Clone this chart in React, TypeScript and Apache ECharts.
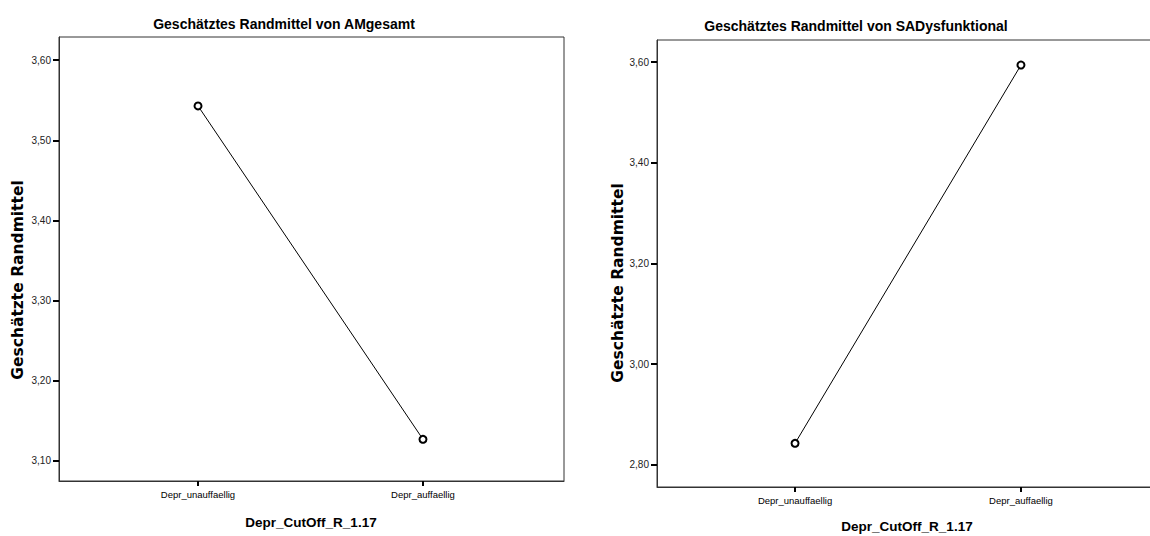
import React, { useEffect, useRef } from "react";
import * as echarts from "echarts";

const categories = ["Depr_unauffaellig", "Depr_auffaellig"];
const amGesamt = [3.543, 3.127];
const saDysfunktional = [2.843, 3.594];
const leftTicks = [3.1, 3.2, 3.3, 3.4, 3.5, 3.6];
const rightTicks = [2.8, 3.0, 3.2, 3.4, 3.6];
const leftTitle = "Geschätztes Randmittel von AMgesamt";
const rightTitle = "Geschätztes Randmittel von SADysfunktional";
const yName = "Geschätzte Randmittel";
const xName = "Depr_CutOff_R_1.17";

const FONT = '"Liberation Sans", Arial, sans-serif';
const YFONT = '"DejaVu Sans", "Liberation Sans", Arial, sans-serif';

export default function App() {
  const ref = useRef<HTMLDivElement>(null);
  useEffect(() => {
    document.body.style.margin = "0";
    const chart = echarts.init(ref.current!, null, { renderer: "svg" });
    const fmtY = (v: number) => v.toFixed(2).replace(".", ",");
    const xAxisBase = (min: number, max: number, gridIndex: number) => ({
      type: "value",
      gridIndex,
      min,
      max,
      axisLine: { show: true, onZero: false, lineStyle: { color: "#333", width: 1 } },
      axisTick: { show: true, length: 5, customValues: [0, 1], lineStyle: { color: "#000", width: 2 } },
      axisLabel: {
        customValues: [0, 1],
        formatter: (v: number) => categories[Math.round(v)] ?? "",
        fontFamily: FONT,
        fontSize: 9.5,
        color: "#000",
        margin: 8,
      },
      splitLine: { show: false },
    });
    const yAxisBase = (min: number, max: number, ticks: number[], gridIndex: number) => ({
      type: "value",
      gridIndex,
      min,
      max,
      axisLine: { show: true, onZero: false, lineStyle: { color: "#333", width: 1 } },
      axisTick: { show: true, length: 6, customValues: ticks, lineStyle: { color: "#000", width: 2 } },
      axisLabel: {
        customValues: ticks,
        formatter: fmtY,
        fontFamily: FONT,
        fontSize: 10,
        color: "#222",
        margin: 8,
      },
      splitLine: { show: false },
    });
    const textStyleBold = { fontWeight: "bold", fill: "#000" };
    chart.setOption({
      animation: false,
      backgroundColor: "#fff",
      title: [
        {
          text: leftTitle,
          left: 284,
          top: 17,
          textAlign: "center",
          padding: 0,
          textStyle: { fontFamily: FONT, fontSize: 14, fontWeight: "bold", color: "#000" },
        },
        {
          text: rightTitle,
          left: 856,
          top: 19,
          textAlign: "center",
          padding: 0,
          textStyle: { fontFamily: FONT, fontSize: 14, fontWeight: "bold", color: "#000" },
        },
      ],
      grid: [
        { left: 59, top: 37, width: 505, height: 444, show: true, borderColor: "#333", borderWidth: 1, backgroundColor: "#fff", containLabel: false, outerBoundsMode: "none" },
        { left: 657, top: 40, width: 502, height: 447, show: true, borderColor: "#333", borderWidth: 1, backgroundColor: "#fff", containLabel: false, outerBoundsMode: "none" },
      ],
      xAxis: [xAxisBase(-0.618, 1.627, 0), xAxisBase(-0.611, 1.611, 1)],
      yAxis: [yAxisBase(3.075, 3.629, leftTicks, 0), yAxisBase(2.7563, 3.6437, rightTicks, 1)],
      series: [
        {
          type: "line",
          xAxisIndex: 0,
          yAxisIndex: 0,
          data: amGesamt.map((v, i) => [i, v]),
          symbol: "emptyCircle",
          symbolSize: 7,
          lineStyle: { color: "#000", width: 1 },
          itemStyle: { color: "#000", borderColor: "#000", borderWidth: 1 },
        },
        {
          type: "line",
          xAxisIndex: 1,
          yAxisIndex: 1,
          data: saDysfunktional.map((v, i) => [i, v]),
          symbol: "emptyCircle",
          symbolSize: 7,
          lineStyle: { color: "#000", width: 1 },
          itemStyle: { color: "#000", borderColor: "#000", borderWidth: 1 },
        },
      ],
      graphic: [
        {
          type: "text",
          x: 18,
          y: 280,
          rotation: Math.PI / 2,
          style: { text: yName, fontFamily: YFONT, fontSize: 15.5, textAlign: "center", textVerticalAlign: "middle", ...textStyleBold },
        },
        {
          type: "text",
          x: 618,
          y: 283,
          rotation: Math.PI / 2,
          style: { text: yName, fontFamily: YFONT, fontSize: 15.5, textAlign: "center", textVerticalAlign: "middle", ...textStyleBold },
        },
        {
          type: "text",
          x: 311,
          y: 522,
          style: { text: xName, fontFamily: FONT, fontSize: 13.5, textAlign: "center", textVerticalAlign: "middle", ...textStyleBold },
        },
        {
          type: "text",
          x: 907,
          y: 526,
          style: { text: xName, fontFamily: FONT, fontSize: 13.5, textAlign: "center", textVerticalAlign: "middle", ...textStyleBold },
        },
      ],
    });
    return () => chart.dispose();
  }, []);
  return <div ref={ref} style={{ position: "fixed", left: 0, top: 0, width: 1150, height: 536 }} />;
}
